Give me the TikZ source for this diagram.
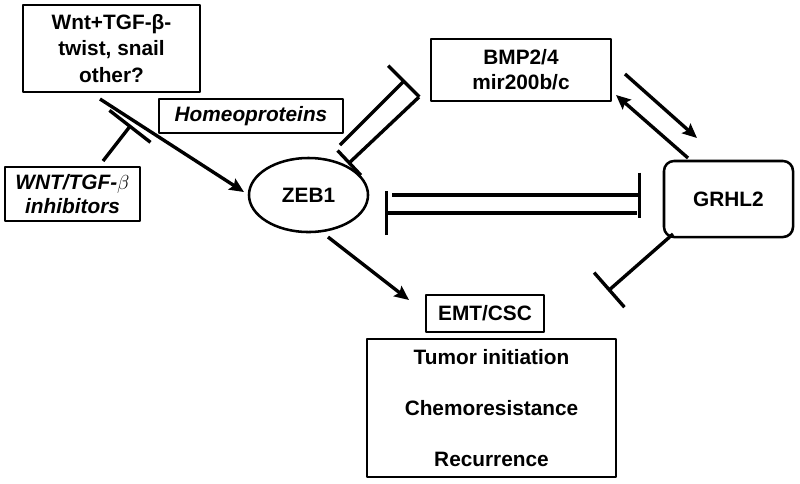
\documentclass[tikz,border=0pt]{standalone}
\usepackage{fontspec}
\setmainfont{Liberation Sans}
\usetikzlibrary{arrows.meta,shapes.geometric}
\begin{document}
\begin{tikzpicture}[x=0.025cm,y=-0.025cm,line join=round,
    font=\fontsize{14.8}{17.6}\selectfont\bfseries,
    box/.style={draw,line width=1.8pt,inner sep=0pt,align=center},
    act/.style={line width=2.4pt,-{Stealth[length=3.6mm,width=3.2mm,inset=0.6mm]}},
    inh/.style={line width=2.4pt,-{Bar[width=#1]}},inh/.default=1.1cm]
    \useasboundingbox (0,0) rectangle (800,483);
    %boxes
    \node[box,minimum width=4.425cm,minimum height=2.175cm] (wnt) at (111.5,48.5) {Wnt+TGF-β-\\[1.5pt]twist, snail\\[1.5pt]other?};
    \node[box,minimum width=4.6cm,minimum height=0.85cm] (homeo) at (251,116) {\itshape Homeoproteins};
    \node[box,minimum width=3.375cm,minimum height=1.35cm] (winh) at (72.5,194) {\itshape WNT/TGF-$\beta$\\\itshape inhibitors};
    \node[box,minimum width=4.5cm,minimum height=1.55cm] (bmp) at (521,70) {BMP2/4\\mir200b/c};
    \node[draw,ellipse,line width=1.8pt,minimum width=2.975cm,minimum height=1.85cm,inner sep=0pt] (zeb) at (308.5,195) {ZEB1};
    \node[box,rounded corners=0.25cm,minimum width=3.225cm,minimum height=1.9cm] (grhl) at (728.5,199) {GRHL2};
    \node[box,minimum width=2.95cm,minimum height=0.925cm] (emt) at (485,313.5) {EMT/CSC};
    \node[box,minimum width=6.225cm,minimum height=3.45cm] (out) at (491.5,408) {Tumor initiation\\[18.5pt]Chemoresistance\\[18.5pt]Recurrence};
    %ends of the connectors
    \coordinate (wz1) at (100,99);  \coordinate (wz2) at (244,192);
    \coordinate (iw1) at (103,161); \coordinate (iw2) at (131,125);
    \coordinate (zb1) at (340,145); \coordinate (zb2) at (405,80);
    \coordinate (bz1) at (419,97);  \coordinate (bz2) at (348,164);
    \coordinate (zg1) at (392,195); \coordinate (zg2) at (641,195);
    \coordinate (gz1) at (637,213); \coordinate (gz2) at (385,213);
    \coordinate (ze1) at (328,237); \coordinate (ze2) at (409,300);
    \coordinate (bg1) at (625,74);  \coordinate (bg2) at (697,138);
    \coordinate (gb1) at (688,158); \coordinate (gb2) at (616,95);
    \coordinate (ge1) at (673,234); \coordinate (ge2) at (608,291);
    %activation
    \draw[act] (wz1)--(wz2);
    \draw[act] (ze1)--(ze2);
    \draw[act] (bg1)--(bg2);
    \draw[act] (gb1)--(gb2);
    %inhibition
    \draw[inh=1.3cm] (iw1)--(iw2);
    \draw[inh] (zb1)--(zb2);
    \draw[inh=0.85cm] (bz1)--(bz2);
    \draw[inh=1.125cm] (zg1)--(zg2);
    \draw[inh] (gz1)--(gz2);
    \draw[inh=1.15cm] (ge1)--(ge2);
\end{tikzpicture}
\end{document}
